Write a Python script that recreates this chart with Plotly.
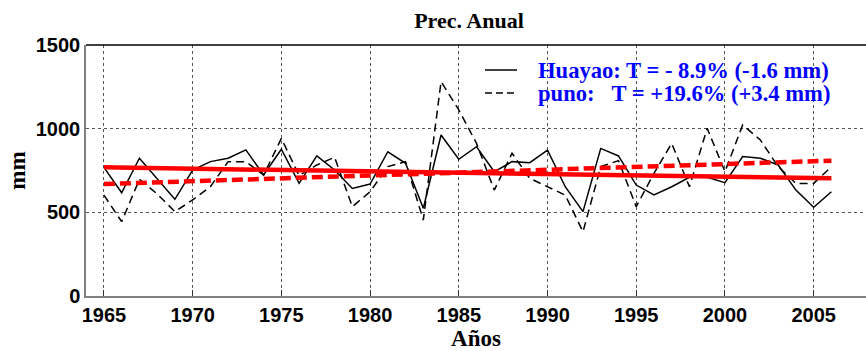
import plotly.graph_objects as go

years = list(range(1965, 2007))
huayao = [769, 617, 823, 700, 578, 753, 803, 823, 873, 723,
          877, 673, 837, 753, 643, 669, 862, 793, 524, 962,
          817, 892, 743, 803, 797, 872, 653, 504, 882, 837,
          663, 604, 653, 709, 709, 677, 833, 823, 783, 633,
          530, 623]
puno = [603, 444, 697, 610, 504, 574, 653, 803, 803, 723,
        942, 720, 783, 829, 534, 623, 773, 803, 454, 1281,
        1112, 912, 633, 853, 703, 653, 603, 384, 773, 809,
        534, 733, 912, 653, 1002, 743, 1022, 932, 773, 673,
        673, 773]
trend_years = [1965, 2006]
trend_huayao = [769, 703]
trend_puno = [669, 809]

legend_labels = ["Huayao: T = - 8.9% (-1.6 mm)",
                 "puno:\u00a0\u00a0\u00a0T = +19.6% (+3.4 mm)"]
legend_dashes = ["solid", "7px,4px"]

x_ticks = [1965, 1970, 1975, 1980, 1985, 1990, 1995, 2000, 2005]
y_ticks = [0, 500, 1000, 1500]

fig = go.Figure()
fig.add_trace(go.Scatter(x=years, y=huayao, mode="lines", showlegend=False,
                         line=dict(color="black", width=1.5)))
fig.add_trace(go.Scatter(x=years, y=puno, mode="lines", showlegend=False,
                         line=dict(color="black", width=1.5, dash="8px,5px")))
fig.add_trace(go.Scatter(x=trend_years, y=trend_huayao, mode="lines", showlegend=False,
                         line=dict(color="#ff0000", width=4.5)))
fig.add_trace(go.Scatter(x=trend_years, y=trend_puno, mode="lines", showlegend=False,
                         line=dict(color="#ff0000", width=4.5, dash="11px,5px")))

serif = "Liberation Serif, Times New Roman, serif"
sans = "Liberation Sans, Arial, sans-serif"

# plot area in pixels: left 86, right 866, top 45, bottom 296
def px_x(p):
    return (p - 86) / 780.0

def px_y(p):
    return (296 - p) / 251.0

fig.update_layout(
    width=866, height=351,
    margin=dict(l=86, r=0, t=45, b=55),
    paper_bgcolor="white", plot_bgcolor="white",
    title=dict(text="Prec. Anual", font=dict(family=serif, size=22, color="black", weight="bold"),
               x=0.491, xref="paper", xanchor="center", y=0.943, yanchor="middle"),
    showlegend=False,
    xaxis=dict(range=[1963.99, 2007.95], tickvals=x_ticks,
               ticks="inside", ticklen=6, tickcolor="#333333", tickwidth=1,
               showline=True, linecolor="#808080", linewidth=2,
               showgrid=True, gridcolor="#555555", griddash="dot", gridwidth=1,
               zeroline=False,
               tickfont=dict(family=sans, size=20, color="black", weight="bold"),
               title=dict(text="Años", font=dict(family=serif, size=23, color="black", weight="bold"),
                          standoff=1)),
    yaxis=dict(range=[0, 1500], tickvals=y_ticks,
               ticks="", showline=True, linecolor="#808080", linewidth=1.5,
               showgrid=True, gridcolor="#555555", griddash="dot", gridwidth=1,
               zeroline=False,
               tickfont=dict(family=sans, size=20, color="black", weight="bold"),
               title=dict(text="mm", font=dict(family=serif, size=23, color="black", weight="bold"),
                          standoff=4)),
)
fig.add_shape(type="line", xref="paper", yref="paper", x0=0, x1=1, y0=1, y1=1,
              line=dict(color="black", width=1.5))

# manual legend
row_y = [70, 93]
for label, dash, ry in zip(legend_labels, legend_dashes, row_y):
    fig.add_shape(type="line", xref="paper", yref="paper",
                  x0=px_x(485), x1=px_x(517), y0=px_y(ry), y1=px_y(ry),
                  line=dict(color="black", width=1.5, dash=dash))
    fig.add_annotation(text=label, xref="paper", yref="paper",
                       x=px_x(536), y=px_y(ry), xanchor="left", yanchor="middle",
                       showarrow=False,
                       font=dict(family=serif, size=22.6, color="#0000ff", weight="bold"))

fig.write_html("out.html")
